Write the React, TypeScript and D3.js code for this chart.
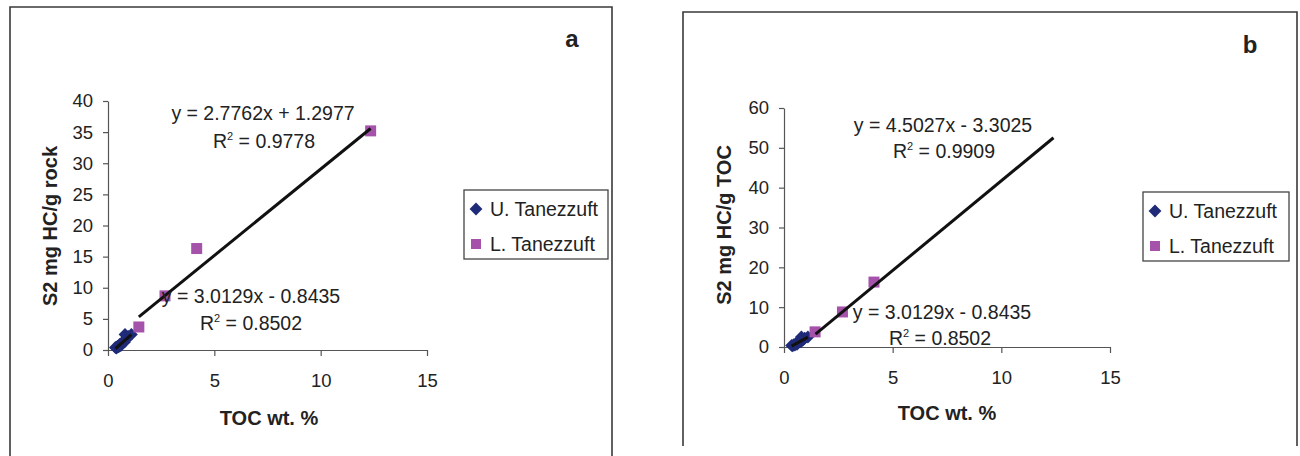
import React, { useEffect, useRef } from 'react';
import * as d3 from 'd3';

// U. Tanezzuft samples (shared by both panels)
const uToc = [0.35, 0.4, 0.45, 0.5, 0.55, 0.6, 0.66, 0.72, 0.78, 0.8, 0.88, 0.95, 1.1];
const uS2 = [0.4, 0.3, 0.6, 0.5, 0.9, 0.7, 1.1, 1.4, 1.3, 2.5, 1.8, 2.2, 2.5];

// L. Tanezzuft samples, panel a
const lTocA = [1.45, 2.68, 4.17, 12.35];
const lS2A = [3.7, 8.7, 16.3, 35.2];

// L. Tanezzuft samples, panel b
const lTocB = [1.43, 2.69, 4.14];
const lS2B = [3.8, 8.8, 16.3];
const lFitRangeB = [1.45, 12.4];

const uFit = { slope: 3.0129, intercept: -0.8435, r2: '0.8502' };
const lFitA = { slope: 2.7762, intercept: 1.2977, r2: '0.9778' };
const lFitB = { slope: 4.5027, intercept: -3.3025, r2: '0.9909' };

const xTicks = [0, 5, 10, 15];
const yTicksA = [0, 5, 10, 15, 20, 25, 30, 35, 40];
const yTicksB = [0, 10, 20, 30, 40, 50, 60];

const seriesNames = ['U. Tanezzuft', 'L. Tanezzuft'];

const navy = '#1f2a78';
const purple = '#a552ab';
const font = 'Arial, "Liberation Sans", sans-serif';

const fmtEq = (f) => {
    const sign = f.intercept < 0 ? ' - ' : ' + ';
    return 'y = ' + f.slope.toFixed(4) + 'x' + sign + Math.abs(f.intercept).toFixed(4);
};

function drawPanel(svg, cfg) {
    const g = svg.append('g');

    // frame (bottom edge is cut off in the original)
    g.append('path')
        .attr('d', cfg.frame)
        .attr('fill', 'none')
        .attr('stroke', '#3a3a3a')
        .attr('stroke-width', 1.6);

    const x = d3.scaleLinear().domain([0, 15]).range([cfg.x0, cfg.x1]);
    const y = d3.scaleLinear().domain([0, cfg.yMax]).range([cfg.y0, cfg.y1]);

    const xAxis = d3.axisBottom(x).tickValues(xTicks).tickSize(6).tickSizeOuter(0).tickPadding(18);
    const yAxis = d3.axisLeft(y).tickValues(cfg.yTicks).tickSize(5).tickSizeOuter(0).tickPadding(10);

    [
        g.append('g').attr('transform', 'translate(0,' + cfg.y0 + ')').call(xAxis),
        g.append('g').attr('transform', 'translate(' + cfg.x0 + ',0)').call(yAxis),
    ].forEach((ax) => {
        ax.selectAll('path, line').attr('stroke', '#555').attr('stroke-width', 1.2);
        ax.selectAll('text')
            .attr('fill', '#222')
            .style('font-family', font)
            .style('font-size', '18.5px');
    });

    // trend lines
    const line = d3.line().x((d) => x(d[0])).y((d) => y(d[1]));
    const fitLine = (f, range) => range.map((t) => [t, f.slope * t + f.intercept]);

    // points
    const diamond = d3.symbol().type(d3.symbolDiamond2).size(105);
    g.append('g').selectAll('path')
        .data(uToc.map((t, i) => [t, uS2[i]]))
        .enter().append('path')
        .attr('d', diamond)
        .attr('transform', (d) => 'translate(' + x(d[0]) + ',' + y(d[1]) + ')')
        .attr('fill', navy);

    g.append('path')
        .attr('d', line(fitLine(uFit, d3.extent(uToc))))
        .attr('stroke', '#111')
        .attr('stroke-width', 3)
        .attr('fill', 'none');

    g.append('g').selectAll('rect')
        .data(cfg.lToc.map((t, i) => [t, cfg.lS2[i]]))
        .enter().append('rect')
        .attr('x', (d) => x(d[0]) - 5.5)
        .attr('y', (d) => y(d[1]) - 5.5)
        .attr('width', 11)
        .attr('height', 11)
        .attr('fill', purple);

    g.append('path')
        .attr('d', line(fitLine(cfg.lFit, cfg.lRange)))
        .attr('stroke', '#111')
        .attr('stroke-width', 3)
        .attr('fill', 'none');

    // equation labels
    const eq = (txt, cx, by) => {
        g.append('text')
            .attr('x', cx).attr('y', by)
            .attr('text-anchor', 'middle')
            .style('font-family', font).style('font-size', '19.5px')
            .attr('fill', '#222')
            .text(txt);
    };
    const r2 = (val, cx, by) => {
        const t = g.append('text')
            .attr('x', cx).attr('y', by)
            .attr('text-anchor', 'middle')
            .style('font-family', font).style('font-size', '19.5px')
            .attr('fill', '#222');
        t.append('tspan').text('R');
        t.append('tspan').attr('dy', -8).style('font-size', '11px').text('2');
        t.append('tspan').attr('dy', 8).text(' = ' + val);
    };
    eq(fmtEq(cfg.lFit), cfg.eq1[0], cfg.eq1[1]);
    r2(cfg.lFit.r2, cfg.r1[0], cfg.r1[1]);
    eq(fmtEq(uFit), cfg.eq2[0], cfg.eq2[1]);
    r2(uFit.r2, cfg.r2[0], cfg.r2[1]);

    // axis titles
    g.append('text')
        .attr('transform', 'translate(' + cfg.yTitle[0] + ',' + cfg.yTitle[1] + ') rotate(-90)')
        .attr('text-anchor', 'middle')
        .attr('dy', '0.35em')
        .style('font-family', font).style('font-size', '20px').style('font-weight', 'bold')
        .attr('fill', '#222')
        .text(cfg.yLabel);
    g.append('text')
        .attr('x', cfg.xTitle[0]).attr('y', cfg.xTitle[1])
        .attr('text-anchor', 'middle')
        .style('font-family', font).style('font-size', '20px').style('font-weight', 'bold')
        .attr('fill', '#222')
        .text('TOC wt. %');

    // panel letter
    g.append('text')
        .attr('x', cfg.letterPos[0]).attr('y', cfg.letterPos[1])
        .attr('text-anchor', 'middle')
        .style('font-family', font).style('font-size', '24px').style('font-weight', 'bold')
        .attr('fill', '#222')
        .text(cfg.letter);

    // legend
    const lg = g.append('g').attr('transform', 'translate(' + cfg.legend[0] + ',' + cfg.legend[1] + ')');
    lg.append('rect')
        .attr('width', cfg.legend[2]).attr('height', 69)
        .attr('fill', '#fff').attr('stroke', '#444').attr('stroke-width', 1.3);
    seriesNames.forEach((name, i) => {
        const cy = 19 + i * 35;
        if (i === 0) {
            lg.append('path')
                .attr('d', diamond)
                .attr('transform', 'translate(12,' + cy + ')')
                .attr('fill', navy);
        } else {
            lg.append('rect')
                .attr('x', 7).attr('y', cy - 5)
                .attr('width', 10).attr('height', 10)
                .attr('fill', purple);
        }
        lg.append('text')
            .attr('x', 26).attr('y', cy).attr('dy', '0.36em')
            .style('font-family', font).style('font-size', '19.5px')
            .attr('fill', '#222')
            .text(name);
    });
}

export default function App() {
    const ref = useRef(null);

    useEffect(() => {
        document.body.style.margin = '0';
        const svg = d3.select(ref.current);
        svg.selectAll('*').remove();
        drawPanel(svg, {
            frame: 'M10,460V7H612V460',
            x0: 108, x1: 427, y0: 350, y1: 101,
            yMax: 40, yTicks: yTicksA,
            lToc: lTocA, lS2: lS2A, lFit: lFitA, lRange: d3.extent(lTocA),
            eq1: [263, 120], r1: [264, 148], eq2: [251, 303], r2: [251, 330],
            yTitle: [50, 226], yLabel: 'S2 mg HC/g rock', xTitle: [269, 425],
            letter: 'a', letterPos: [572, 47],
            legend: [464, 190, 144],
        });
        drawPanel(svg, {
            frame: 'M683,446V12H1297V446',
            x0: 784, x1: 1110, y0: 347, y1: 108,
            yMax: 60, yTicks: yTicksB,
            lToc: lTocB, lS2: lS2B, lFit: lFitB, lRange: lFitRangeB,
            eq1: [943, 132], r1: [944, 158], eq2: [942, 319], r2: [940, 345],
            yTitle: [724, 225], yLabel: 'S2 mg HC/g TOC', xTitle: [947, 420],
            letter: 'b', letterPos: [1250, 53],
            legend: [1143, 192, 146],
        });
    }, []);

    return <svg ref={ref} width={1300} height={456} style={{ display: 'block', background: '#fff' }} />;
}
